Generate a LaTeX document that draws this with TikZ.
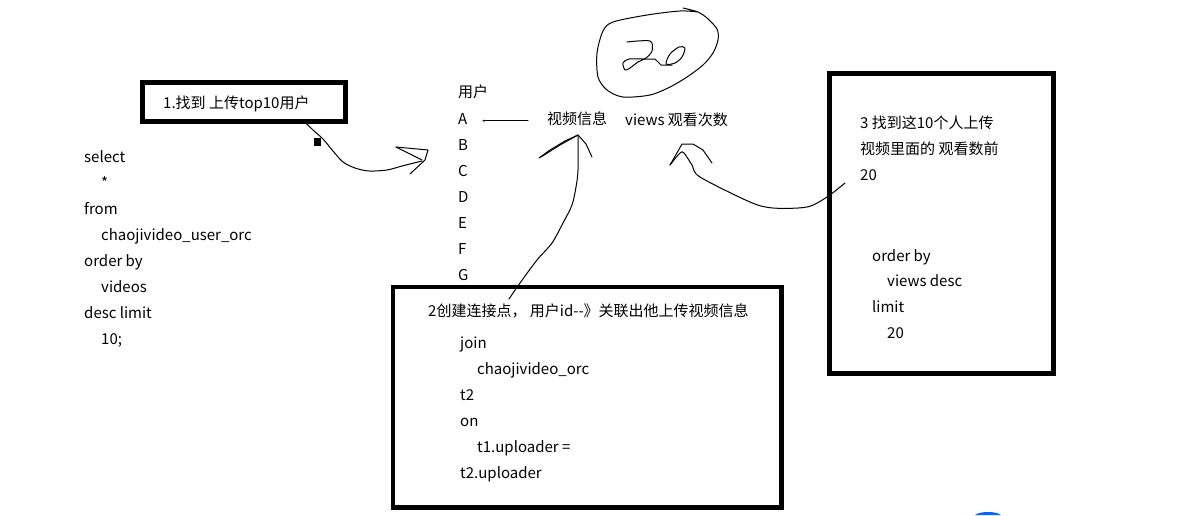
\documentclass[tikz,border=0pt]{standalone}
\usepackage{fontspec}
\setmainfont{Noto Sans CJK SC}
\begin{document}
\begin{tikzpicture}[x=1pt,y=-1pt,
  txt/.style={anchor=base west,inner sep=0pt,font=\fontsize{15}{18}\selectfont},
  hand/.style={line width=1pt,line join=round,line cap=round},
  bigbox/.style={draw,line width=4.6pt}]
\useasboundingbox[fill=white] (0,0) rectangle (1203,515);

% boxes
\draw[bigbox,line width=5pt] (142.5,82.5) rectangle (345.5,121.5);
\draw[bigbox] (393,287) rectangle (781.5,507.5);
\draw[bigbox] (829.3,73.3) rectangle (1053.7,373.5);

% box 1 text
\node[txt] (t1) at (163,108) {1.找到 上传top10用户};

% left SQL
\node[txt] (l1) at (84,162) {select};
\node[txt] (l2) at (101,188) {*};
\node[txt] (l3) at (84,214) {from};
\node[txt] (l4) at (101,240) {chaojivideo\_user\_orc};
\node[txt] (l5) at (84,266) {order by};
\node[txt] (l6) at (101,292) {videos};
\node[txt] (l7) at (84,318) {desc limit};
\node[txt] (l8) at (101,344) {10;};

% users column
\node[txt] (u0) at (458,97) {用户};
\node[txt] (uA) at (458,124) {A};
\node[txt] (uB) at (458,150) {B};
\node[txt] (uC) at (458,176) {C};
\node[txt] (uD) at (458,202) {D};
\node[txt] (uE) at (458,228) {E};
\node[txt] (uF) at (458,254) {F};
\node[txt] (uG) at (458,280) {G};

\node[txt] (vinfo) at (547,124) {视频信息};
\node[txt] (views) at (625,125) {views 观看次数};

% line from A
\coordinate (aL) at (483,120.7);
\coordinate (aR) at (528,120.7);
\draw[hand] (aL) -- (aR);
\draw[line width=0.5pt] (aL) -- (484.5,119.8) (aL) -- (484.5,121.8);

% box 2 text
\node[txt] (h2) at (428,316) {2创建连接点， 用户id{-}{-}》关联出他上传视频信息};
\node[txt] (j1) at (460,348) {join};
\node[txt] (j2) at (477,374) {chaojivideo\_orc};
\node[txt] (j3) at (460,400) {t2};
\node[txt] (j4) at (460,426) {on};
\node[txt] (j5) at (477,452) {t1.uploader =};
\node[txt] (j6) at (460,478) {t2.uploader};

% box 3 text
\node[txt] (k1) at (860,128) {3 找到这10个人上传};
\node[txt] (k2) at (860,154) {视频里面的 观看数前};
\node[txt] (k3) at (860,180) {20};
\node[txt] (k4) at (872,261) {order by};
\node[txt] (k5) at (887,286) {views desc};
\node[txt] (k6) at (872,312) {limit};
\node[txt] (k7) at (887,338) {20};

% circled 20
\draw[hand] plot[smooth] coordinates {(683,8) (698,12) (707,18) (717,29) (718,40) (713,53) (703,65) (687,77) (670,87) (650,95) (623,97) (607,90) (598,77) (597,53) (603,31) (613,22) (647,15) (680,11) (698,12)};
\draw[hand] plot[smooth] coordinates {(627,42) (650,41) (652,51) (646,58) (638,62) (630,68) (625,70) (623,63) (629,59) (643,59)};
\draw[hand] (643,59) -- (655,59) -- (661,65) -- (672,65);
\draw[hand] plot[smooth cycle] coordinates {(666,64) (670,54) (679,47) (685,48) (682,57) (675,63)};

% arrow 1: box1 -> users
\coordinate (s1) at (303,120);
\coordinate (e1) at (428,150);
\fill (314,138) rectangle (321,146);
\draw[hand] plot[smooth] coordinates {(s1) (313,130) (323,139) (333,151) (343,162) (355,168) (369,171) (387,170) (402,166) (422,161)};
\draw[hand] (396,147) -- (e1) -- (425,160) -- (410,174);
\draw[hand] (396,147) -- (422,160);

% arrow 2: box2 -> video info
\coordinate (s2) at (509,299);
\coordinate (e2) at (578,135);
\draw[hand] plot[smooth] coordinates {(s2) (520,283) (537,260) (552,243) (563,223) (572,205) (576,187) (578,170) (e2)};
\draw[hand] (539,158) -- (550,150) -- (565,141) -- (e2) -- (586,144) -- (592,157);
\draw[hand] (541,157) -- (560,145) -- (e2);

% arrow 3: box3 -> views
\coordinate (s3) at (845,183);
\coordinate (e3) at (670,165);
\draw[hand] plot[smooth] coordinates {(s3) (827,197) (807,207) (773,208) (750,202) (700,177) (692,165) (684,153) (680,153) (e3)};
\draw[hand] (e3) -- (682,144) -- (693,144) -- (703,150) -- (712,163);

% small icon artifact at the bottom edge
\fill[blue!60!cyan] (975,515) .. controls (980,511) and (996,511) .. (1001,515) -- cycle;
\end{tikzpicture}
\end{document}
